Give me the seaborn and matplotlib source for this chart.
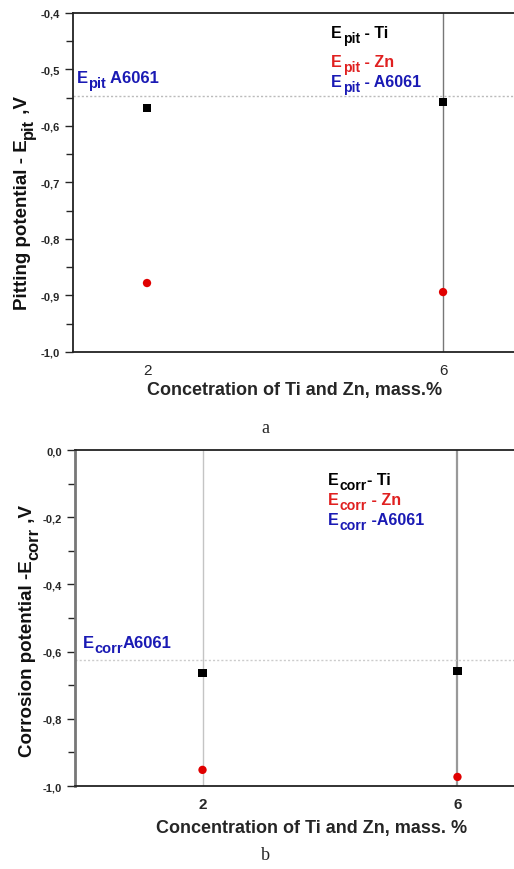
import matplotlib
matplotlib.use("Agg")
import matplotlib.pyplot as plt
import numpy as np
import pandas as pd
import seaborn as sns
from matplotlib.ticker import FuncFormatter, MultipleLocator

sns.set_style("ticks")
plt.rcParams['font.family'] = ['Liberation Sans', 'DejaVu Sans']

conc = [2, 6]
pit_ti = [-0.568, -0.558]
pit_zn = [-0.878, -0.894]
pit_a6061 = -0.547
corr_ti = [-0.664, -0.658]
corr_zn = [-0.952, -0.973]
corr_a6061 = -0.625

BLUE = '#1a1ab4'
RED = '#e02020'


def comma(v, pos):
    return ('%.1f' % v).replace('.', ',')


def sub_text(ax, x, y, main, sub, rest, color, size, drop=3.6):
    # main text, bigger-than-mathtext subscript, then the rest on the baseline
    kw = dict(color=color, fontweight='bold', va='bottom', ha='left')
    t1 = ax.text(x, y, main, fontsize=size, **kw)
    t2 = ax.annotate(sub, xy=(1, 0), xycoords=t1, xytext=(0.4, -drop),
                     textcoords='offset points', fontsize=size * 0.88, **kw)
    ax.annotate(rest, xy=(1, 0), xycoords=t2, xytext=(0, drop),
                textcoords='offset points', fontsize=size, **kw)


def sub_ylabel(fig, x, y, main, sub, rest, size, drop=3.8):
    kw = dict(color='#111111', fontweight='bold', va='bottom', ha='right',
              rotation=90)
    t1 = fig.text(x, y, main, fontsize=size, **kw)
    t2 = fig.add_artist(plt.Annotation(sub, xy=(1, 1), xycoords=t1,
                                       xytext=(drop, 0.4),
                                       textcoords='offset points',
                                       fontsize=size * 0.88, **kw))
    fig.add_artist(plt.Annotation(rest, xy=(1, 1), xycoords=t2,
                                  xytext=(-drop, 0),
                                  textcoords='offset points',
                                  fontsize=size, **kw))


fig = plt.figure(figsize=(5.14, 8.7), dpi=100)
ax_a = fig.add_axes([0.142, 0.5943, 0.864, 0.3897])
ax_b = fig.add_axes([0.146, 0.0954, 0.868, 0.3862])

# panel a
ax_a.axvline(6, color='#777777', lw=1.0, zorder=1)
ax_a.axhline(pit_a6061, color='#bbbbbb', lw=1.0, ls=(0, (1.5, 1.5)), zorder=1)
df_a = pd.DataFrame({'x': conc * 2, 'y': pit_ti + pit_zn,
                     'metal': ['Ti'] * 2 + ['Zn'] * 2})
sns.scatterplot(data=df_a, x='x', y='y', hue='metal', style='metal',
                palette={'Ti': 'black', 'Zn': '#e00000'},
                markers={'Ti': 's', 'Zn': 'o'}, s=36, edgecolor='none',
                legend=False, ax=ax_a, zorder=3)
ax_a.set_xlim(1, 7)
ax_a.set_ylim(-1.0, -0.4)
ax_a.set_xticks(conc)
ax_a.set_xticklabels(['2', '6'], fontsize=11)
ax_a.tick_params(axis='x', length=0, pad=8)
ax_a.yaxis.set_major_locator(MultipleLocator(0.1))
ax_a.yaxis.set_minor_locator(MultipleLocator(0.05))
ax_a.yaxis.set_major_formatter(FuncFormatter(comma))
ax_a.tick_params(axis='y', which='major', length=6, width=1, labelsize=8)
ax_a.tick_params(axis='y', which='minor', length=5, width=1)
for lab in ax_a.get_yticklabels():
    lab.set_fontweight('bold')
ax_a.spines['right'].set_visible(False)
for sp in ['left', 'top', 'bottom']:
    ax_a.spines[sp].set_linewidth(1.3)
    ax_a.spines[sp].set_color('#222222')
ax_a.set_xlabel('Concetration of Ti and Zn, mass.%', fontsize=13,
                fontweight='bold', labelpad=3)
ax_a.set_ylabel('')
sub_ylabel(fig, 0.060, 1 - 310 / 870, 'Pitting potential - E', 'pit', ' ,V',
           13.5)
sub_text(ax_a, 1.05, -0.527, 'E', 'pit', ' A6061', BLUE, 12)
sub_text(ax_a, 4.49, -0.448, 'E', 'pit', ' - Ti', 'black', 11.5)
sub_text(ax_a, 4.49, -0.5, 'E', 'pit', ' - Zn', RED, 11.5)
sub_text(ax_a, 4.49, -0.534, 'E', 'pit', ' - A6061', BLUE, 11.5)

# panel b
ax_b.axvline(2, color='#c4c4c4', lw=1.0, zorder=1)
ax_b.axvline(6, color='#999999', lw=1.6, zorder=1)
ax_b.axhline(corr_a6061, color='#cccccc', lw=1.0, ls=(0, (1.5, 1.5)), zorder=1)
df_b = pd.DataFrame({'x': conc * 2, 'y': corr_ti + corr_zn,
                     'metal': ['Ti'] * 2 + ['Zn'] * 2})
sns.scatterplot(data=df_b, x='x', y='y', hue='metal', style='metal',
                palette={'Ti': 'black', 'Zn': '#e00000'},
                markers={'Ti': 's', 'Zn': 'o'}, s=36, edgecolor='none',
                legend=False, ax=ax_b, zorder=3)
ax_b.set_xlim(0, 7)
ax_b.set_ylim(-1.0, 0.0)
ax_b.set_xticks(conc)
ax_b.set_xticklabels(['2', '6'], fontsize=11, fontweight='bold')
ax_b.tick_params(axis='x', length=0, pad=8)
ax_b.yaxis.set_major_locator(MultipleLocator(0.2))
ax_b.yaxis.set_minor_locator(MultipleLocator(0.1))
ax_b.yaxis.set_major_formatter(FuncFormatter(comma))
ax_b.tick_params(axis='y', which='major', length=6, width=1, labelsize=8)
ax_b.tick_params(axis='y', which='minor', length=5, width=1)
for lab in ax_b.get_yticklabels():
    lab.set_fontweight('bold')
ax_b.spines['right'].set_visible(False)
ax_b.spines['left'].set_color('#777777')
ax_b.spines['left'].set_linewidth(2)
for sp in ['top', 'bottom']:
    ax_b.spines[sp].set_linewidth(1.3)
    ax_b.spines[sp].set_color('#222222')
ax_b.set_xlabel('Concentration of Ti and Zn, mass. %', fontsize=13,
                fontweight='bold', labelpad=6)
ax_b.xaxis.label.set_x(0.53)
ax_b.set_ylabel('')
sub_ylabel(fig, 0.070, 1 - 757 / 870, 'Corrosion potential -E', 'corr',
           ' ,V', 13.5)
sub_text(ax_b, 0.12, -0.595, 'E', 'corr', 'A6061', BLUE, 12)
sub_text(ax_b, 3.97, -0.11, 'E', 'corr', '- Ti', 'black', 11.5)
sub_text(ax_b, 3.97, -0.17, 'E', 'corr', ' - Zn', RED, 11.5)
sub_text(ax_b, 3.97, -0.228, 'E', 'corr', ' -A6061', BLUE, 11.5)

fig.text(0.516, 0.508, 'a', family='Liberation Serif', fontsize=13,
         ha='center', va='center')
fig.text(0.516, 0.017, 'b', family='Liberation Serif', fontsize=13,
         ha='center', va='center')

fig.savefig('out.png', dpi=100)
